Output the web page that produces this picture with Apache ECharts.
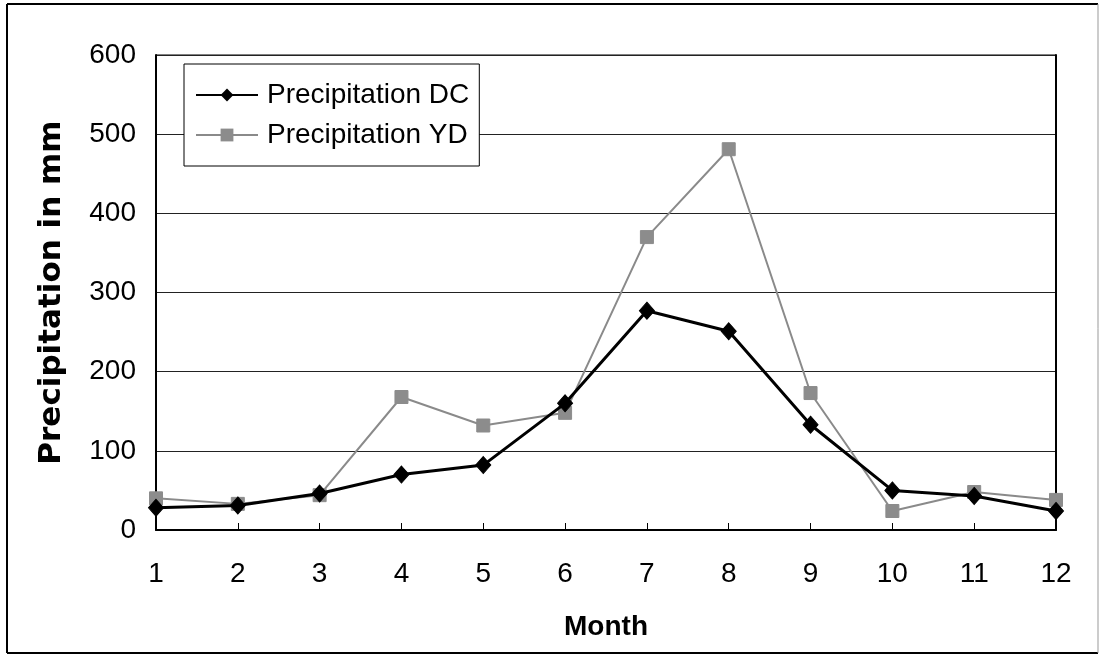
<!DOCTYPE html>
<html>
<head>
<meta charset="utf-8">
<script src="https://cdn.jsdelivr.net/npm/echarts@6/dist/echarts.min.js"></script>
<style>
html,body{margin:0;padding:0;background:#fff;}
#chart{width:1100px;height:656px;}
</style>
</head>
<body>
<div id="chart"></div>
<script>
const months = ['1','2','3','4','5','6','7','8','9','10','11','12'];
const precipDC = [28, 31, 46, 70, 82, 160, 277, 251, 133, 50, 43, 24];
const precipYD = [40, 33, 44, 168, 132, 148, 370, 481, 173, 24, 48, 38];
const yTicks = {min: 0, max: 600, interval: 100};

const FONT = '"Liberation Sans", Arial, sans-serif';
const chart = echarts.init(document.getElementById('chart'), null, {renderer: 'canvas'});
chart.setOption({
  animation: false,
  backgroundColor: '#fff',
  textStyle: {fontFamily: FONT},
  grid: {left: 156, right: 44, top: 55, bottom: 126, show: true, borderColor: '#000', borderWidth: 1},
  legend: {
    orient: 'vertical', left: 184, top: 64,
    padding: [17, 10, 17, 11],
    itemWidth: 62, itemHeight: 16, itemGap: 12,
    backgroundColor: '#fff', borderColor: '#000', borderWidth: 1,
    textStyle: {fontFamily: FONT, fontSize: 28, color: '#000', padding: [0, 0, 0, 4]},
    data: ['Precipitation DC', 'Precipitation YD']
  },
  xAxis: {
    type: 'category', data: months, boundaryGap: false,
    name: 'Month', nameLocation: 'middle', nameGap: 83,
    nameTextStyle: {fontFamily: FONT, fontSize: 28, fontWeight: 'bold', color: '#000'},
    axisLine: {lineStyle: {color: '#000', width: 2}},
    axisTick: {inside: true, length: 7, lineStyle: {color: '#000'}},
    axisLabel: {fontFamily: FONT, fontSize: 28, color: '#000', margin: 30},
    splitLine: {show: false}
  },
  yAxis: [{
    type: 'value', min: yTicks.min, max: yTicks.max, interval: yTicks.interval,
    name: 'Precipitation in mm', nameLocation: 'middle', nameGap: 89,
    nameTextStyle: {fontFamily: '"DejaVu Sans", sans-serif', fontSize: 31, fontWeight: 'bold', color: '#000'},
    axisLine: {show: true, lineStyle: {color: '#000', width: 2}},
    axisTick: {show: false},
    axisLabel: {fontFamily: FONT, fontSize: 28, color: '#000', margin: 20},
    splitLine: {show: true, lineStyle: {color: '#222', width: 1}}
  }, {
    type: 'value', position: 'right', min: yTicks.min, max: yTicks.max, interval: yTicks.interval,
    axisLine: {show: true, lineStyle: {color: '#000', width: 2}},
    axisTick: {show: false}, axisLabel: {show: false}, splitLine: {show: false}
  }],
  series: [{
    name: 'Precipitation DC', type: 'line', data: precipDC,
    symbol: 'diamond', symbolSize: [15, 17], showAllSymbol: true,
    lineStyle: {color: '#000', width: 3},
    itemStyle: {color: '#000', borderColor: '#000'},
    z: 3
  }, {
    name: 'Precipitation YD', type: 'line', data: precipYD,
    symbol: 'rect', symbolSize: 13, showAllSymbol: true,
    lineStyle: {color: '#8a8a8a', width: 2},
    itemStyle: {color: '#8c8c8c', borderColor: '#8c8c8c'},
    z: 2
  }],
  graphic: [
    {type: 'line', shape: {x1: 7, y1: 4, x2: 7, y2: 653}, style: {stroke: '#000', lineWidth: 2}},
    {type: 'line', shape: {x1: 7, y1: 4, x2: 1098, y2: 4}, style: {stroke: '#000', lineWidth: 2}},
    {type: 'line', shape: {x1: 7, y1: 653, x2: 1098, y2: 653}, style: {stroke: '#000', lineWidth: 2}},
    {type: 'line', shape: {x1: 1098, y1: 4, x2: 1098, y2: 653}, style: {stroke: '#999', lineWidth: 1}}
  ]
});
</script>
</body>
</html>
